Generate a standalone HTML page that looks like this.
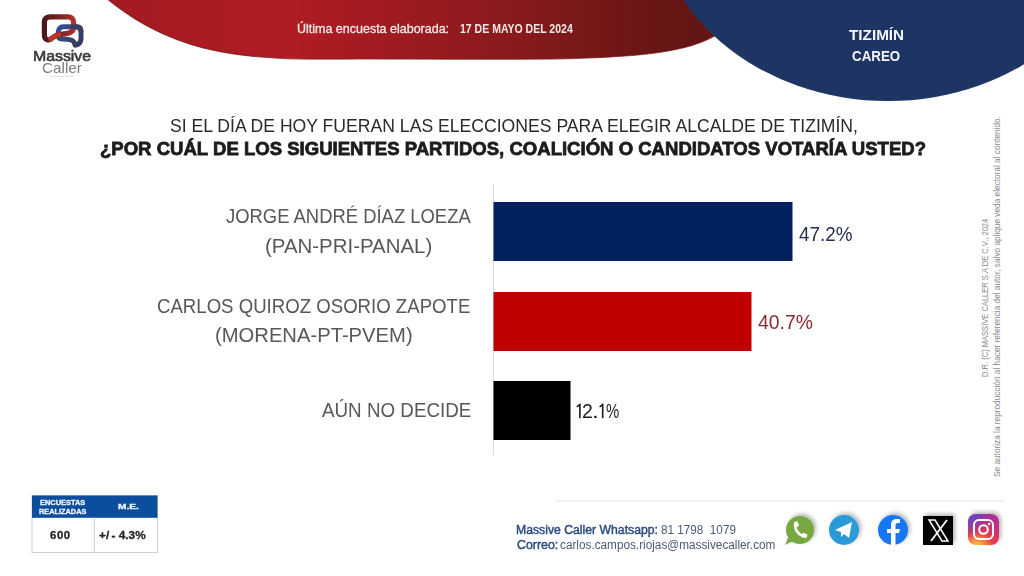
<!DOCTYPE html>
<html><head><meta charset="utf-8">
<style>
html,body{margin:0;padding:0;}
body{width:1024px;height:576px;position:relative;overflow:hidden;background:#fff;font-family:"Liberation Sans",sans-serif;}
#bg{position:absolute;left:0;top:0;}
.t{position:absolute;white-space:nowrap;line-height:1;transform-origin:0 0;}
</style></head>
<body>
<svg id="bg" width="1024" height="576" viewBox="0 0 1024 576">
  <defs>
    <linearGradient id="rg" x1="100" y1="0" x2="760" y2="0" gradientUnits="userSpaceOnUse">
      <stop offset="0" stop-color="#a31b21"/>
      <stop offset="0.29" stop-color="#b01c23"/>
      <stop offset="0.636" stop-color="#881a1c"/>
      <stop offset="0.818" stop-color="#6a1716"/>
      <stop offset="1" stop-color="#5c1414"/>
    </linearGradient>
    <linearGradient id="lr" x1="43" y1="0" x2="76" y2="0" gradientUnits="userSpaceOnUse">
      <stop offset="0" stop-color="#461818"/>
      <stop offset="0.5" stop-color="#7a2222"/>
      <stop offset="1" stop-color="#b83030"/>
    </linearGradient>
    <linearGradient id="lb" x1="56" y1="26" x2="82" y2="44" gradientUnits="userSpaceOnUse">
      <stop offset="0" stop-color="#34509a"/>
      <stop offset="1" stop-color="#383a58"/>
    </linearGradient>
    <filter id="sh" x="-50%" y="-50%" width="200%" height="200%"><feGaussianBlur in="SourceAlpha" stdDeviation="2"/><feOffset dx="2" dy="-2"/><feComponentTransfer><feFuncA type="linear" slope="0.3"/></feComponentTransfer><feMerge><feMergeNode/><feMergeNode in="SourceGraphic"/></feMerge></filter>
    <radialGradient id="ig" cx="0.3" cy="1.08" r="1.1">
      <stop offset="0" stop-color="#fdd35a"/>
      <stop offset="0.18" stop-color="#fb9a3e"/>
      <stop offset="0.48" stop-color="#e83a4e"/>
      <stop offset="0.8" stop-color="#c8307e"/>
      <stop offset="1" stop-color="#b02e96"/>
    </radialGradient>
    <radialGradient id="ig2" cx="0.05" cy="0" r="0.8">
      <stop offset="0" stop-color="#5a4bd0" stop-opacity="1"/>
      <stop offset="0.5" stop-color="#6a45c8" stop-opacity="0.6"/>
      <stop offset="1" stop-color="#a03090" stop-opacity="0"/>
    </radialGradient>
  </defs>
  <path d="M108.5,0 C186.6,63.6 268.2,59 360,59 C629.6,59 720.8,66.3 745,0 L745,-6 L104,-6 Z" fill="url(#rg)" stroke="#7e181c" stroke-width="1.2" stroke-opacity="0.7"/>
  <ellipse cx="888" cy="-100" rx="236" ry="201" fill="#1e3463"/>
  <!-- logo -->
  <path d="M62,39 C66,39 70,39.5 72.5,40.5 C74,41.5 74.5,43 75.2,45.2 C78.5,44.5 81,42.5 81,38.5 L81,31.5 C81,28.5 79.5,26.7 76,26.7 L63.5,26.7 C60,26.7 58.2,29 58.2,32.5 L58.2,35 C58.2,37.8 59.5,39 62,39 Z" fill="none" stroke="url(#lb)" stroke-width="5" stroke-linejoin="round"/>
  <path d="M44.4,34 L44.4,22 C44.4,18.8 46.5,16.8 50,16.8 L68,16.8 C71.5,16.8 73.6,19 73.6,22.5 L73.6,27 C73.6,31 71,33.2 66,33.6 L59,34.6 C54.5,35.4 52.5,37.5 50.5,39.3 C48.5,40.5 46,39.8 45,38 C44.6,37 44.4,35.6 44.4,34 Z" fill="none" stroke="url(#lr)" stroke-width="5.2" stroke-linejoin="round"/>
  <path d="M59,34.6 C54.5,35.4 52.5,37.5 50.5,39.3" fill="none" stroke="#c8382c" stroke-width="4.6" stroke-linecap="round" opacity="0.85"/>
  <path d="M71,26.7 L76,26.7 C79.5,26.7 81,28.5 81,31.5" fill="none" stroke="#3a3c60" stroke-width="5"/>
  <rect x="50" y="75.8" width="24" height="1" fill="#dcdcdc"/>
  <!-- axis & bars -->
  <rect x="493" y="184" width="1" height="271" fill="#dadada"/>
  <rect x="493.5" y="202" width="299" height="59" fill="#002060"/>
  <rect x="493.5" y="292" width="258" height="59" fill="#c00000"/>
  <rect x="493.5" y="381" width="77" height="59" fill="#000"/>
  <path d="M576.8,407 L579.9,404.3 L579.9,418.2" fill="none" stroke="#1a1a1a" stroke-width="1.6" stroke-linejoin="round"/>
  <path d="M599.6,407 L602.7,404.3 L602.7,418.2" fill="none" stroke="#1a1a1a" stroke-width="1.6" stroke-linejoin="round"/>
  <!-- table -->
  <rect x="32" y="495.5" width="125.5" height="57" fill="#fff" stroke="#d0d0d0" stroke-width="1"/>
  <rect x="32" y="495.5" width="125.5" height="22.3" fill="#0b4e9e"/>
  <rect x="94" y="517.8" width="1" height="34.7" fill="#d0d0d0"/>
  <!-- contact line -->
  <rect x="556" y="500.5" width="448" height="1" fill="#e4e4e4"/>
  <!-- icons -->
  <g filter="url(#sh)">
    <circle cx="800" cy="530" r="14" fill="#78a843"/>
    <path d="M788,538 L785,545 L793,541 Z" fill="#78a843"/>
  </g>
  <path d="M795.2,524.5 C794.6,529 797.5,534 803.5,536.6" fill="none" stroke="#fff" stroke-width="2.6" stroke-linecap="round"/>
  <path d="M794.3,522.6 L797.2,521.8 L798.6,525.6 L796.2,527 Z" fill="#fff" stroke="#fff" stroke-width="1" stroke-linejoin="round"/>
  <path d="M801.6,535.6 L803.2,533.2 L807,534.8 L806.2,537.8 Z" fill="#fff" stroke="#fff" stroke-width="1" stroke-linejoin="round"/>
  <g filter="url(#sh)"><circle cx="844" cy="530" r="15" fill="#2a9ad8"/></g>
  <path d="M835,530 L852,522 L849,538 L844,534 L841,537 L841,532 Z" fill="#fff"/>
  <g filter="url(#sh)"><circle cx="893" cy="530" r="15" fill="#1877f2"/></g>
  <path d="M891,546 L891,533 L887,533 L887,529 L891,529 L891,525 C891,521 893,519 897,519 L900,519 L900,523 L898,523 C896,523 895.5,524 895.5,525.5 L895.5,529 L900,529 L899,533 L895.5,533 L895.5,546 Z" fill="#fff"/>
  <g filter="url(#sh)"><rect x="923" y="516" width="30" height="29" fill="#000"/></g>
  <path d="M929,520 L935,520 L948,541 L942,541 Z" fill="none" stroke="#fff" stroke-width="1.5"/>
  <path d="M947,520 L931,541" stroke="#fff" stroke-width="1.8"/>
  <g filter="url(#sh)"><rect x="968" y="514" width="31" height="31" rx="8" fill="url(#ig)"/></g>
  <rect x="968" y="514" width="31" height="31" rx="8" fill="url(#ig2)"/>
  <rect x="974" y="520" width="19" height="19" rx="5" fill="none" stroke="#fff" stroke-width="2"/>
  <circle cx="983.5" cy="529.5" r="4.3" fill="none" stroke="#fff" stroke-width="2"/>
  <circle cx="989" cy="524" r="1.2" fill="#fff"/>
</svg>
<div class="t" id="ult" style="left:296.55px;top:22.27px;font-size:13.1px;font-weight:normal;color:#f6e8e8;transform:scaleX(0.9541);-webkit-text-stroke:0.3px #f6e8e8;">Última encuesta elaborada:</div>
<div class="t" id="may" style="left:459.62px;top:22.70px;font-size:12.0px;font-weight:bold;color:#f6e8e8;transform:scaleX(0.8758);">17 DE MAYO DEL 2024</div>
<div class="t" id="tiz" style="left:848.60px;top:27.33px;font-size:15.5px;font-weight:bold;color:#f4f6fb;transform:scaleX(0.9855);">TIZIMÍN</div>
<div class="t" id="car" style="left:851.81px;top:48.25px;font-size:15.0px;font-weight:bold;color:#f4f6fb;transform:scaleX(0.8887);">CAREO</div>
<div class="t" id="q1" style="left:170.27px;top:115.85px;font-size:19.0px;font-weight:normal;color:#2a2a2a;transform:scaleX(0.9264);">SI EL DÍA DE HOY FUERAN LAS ELECCIONES PARA ELEGIR ALCALDE DE TIZIMÍN,</div>
<div class="t" id="q2" style="left:100.32px;top:139.25px;font-size:19.0px;font-weight:bold;color:#1c1c1c;transform:scaleX(0.9761);-webkit-text-stroke:0.8px #1c1c1c;">¿POR CUÁL DE LOS SIGUIENTES PARTIDOS, COALICIÓN O CANDIDATOS VOTARÍA USTED?</div>
<div class="t" id="l1" style="left:226.40px;top:206.53px;font-size:19.5px;font-weight:normal;color:#585858;transform:scaleX(0.9448);">JORGE ANDRÉ DÍAZ LOEZA</div>
<div class="t" id="l1b" style="left:264.95px;top:236.53px;font-size:19.5px;font-weight:normal;color:#585858;transform:scaleX(1.0475);">(PAN-PRI-PANAL)</div>
<div class="t" id="l2" style="left:157.35px;top:296.62px;font-size:19.5px;font-weight:normal;color:#585858;transform:scaleX(0.9544);">CARLOS QUIROZ OSORIO ZAPOTE</div>
<div class="t" id="l2b" style="left:215.36px;top:325.93px;font-size:19.5px;font-weight:normal;color:#585858;transform:scaleX(1.0365);">(MORENA-PT-PVEM)</div>
<div class="t" id="l3" style="left:322.30px;top:400.62px;font-size:19.5px;font-weight:normal;color:#585858;transform:scaleX(0.9643);">AÚN NO DECIDE</div>
<div class="t" id="p1" style="left:799.20px;top:222.75px;font-size:21.0px;font-weight:normal;color:#262d4e;transform:scaleX(0.8983);">47.2%</div>
<div class="t" id="p2" style="left:757.50px;top:310.75px;font-size:21.0px;font-weight:normal;color:#8a2a33;transform:scaleX(0.9220);">40.7%</div>
<div class="t" id="p3a" style="left:582.37px;top:400.35px;font-size:21.0px;font-weight:normal;color:#1a1a1a;transform:scaleX(0.9300);">2</div>
<div class="t" id="p3b" style="left:592.30px;top:400.35px;font-size:21.0px;font-weight:normal;color:#1a1a1a;transform:scaleX(1.1500);">.</div>
<div class="t" id="p3c" style="left:606.19px;top:400.35px;font-size:21.0px;font-weight:normal;color:#1a1a1a;transform:scaleX(0.7059);">%</div>
<div class="t" id="mas" style="left:33.12px;top:49.40px;font-size:14.0px;font-weight:normal;color:#3a3a3a;transform:scaleX(1.1310);-webkit-text-stroke:0.6px #3a3a3a;">Massive</div>
<div class="t" id="cal" style="left:42.15px;top:61.49px;font-size:14.6px;font-weight:normal;color:#7c7c7c;transform:scaleX(1.0486);">Caller</div>
<div class="t" id="wa1" style="left:516.01px;top:524.34px;font-size:12.3px;font-weight:normal;color:#2b4c80;transform:scaleX(0.9936);-webkit-text-stroke:0.45px #2b4c80;">Massive Caller Whatsapp:</div>
<div class="t" id="wa2" style="left:661.40px;top:524.34px;font-size:12.3px;font-weight:normal;color:#4a5a78;transform:scaleX(0.9526);">81 1798&nbsp; 1079</div>
<div class="t" id="co1" style="left:516.60px;top:539.14px;font-size:12.3px;font-weight:normal;color:#2b4c80;transform:scaleX(1.0050);-webkit-text-stroke:0.45px #2b4c80;">Correo:</div>
<div class="t" id="co2" style="left:560.30px;top:539.14px;font-size:12.3px;font-weight:normal;color:#4a5a78;transform:scaleX(0.9571);">carlos.campos.riojas@massivecaller.com</div>
<div class="t" id="th1" style="left:40.22px;top:498.64px;font-size:7.6px;font-weight:bold;color:#eef2fa;transform:scaleX(0.9778);-webkit-text-stroke:0.35px #eef2fa;">ENCUESTAS</div>
<div class="t" id="th2" style="left:39.43px;top:507.54px;font-size:7.6px;font-weight:bold;color:#eef2fa;transform:scaleX(0.9681);-webkit-text-stroke:0.35px #eef2fa;">REALIZADAS</div>
<div class="t" id="th3" style="left:117.57px;top:502.64px;font-size:7.6px;font-weight:bold;color:#eef2fa;transform:scaleX(1.3273);-webkit-text-stroke:0.35px #eef2fa;">M.E.</div>
<div class="t" id="n600" style="left:50.30px;top:530.09px;font-size:10.6px;font-weight:bold;color:#262626;transform:scaleX(1.0684);letter-spacing:0.6px;-webkit-text-stroke:0.3px #262626;">600</div>
<div class="t" id="me" style="left:98.60px;top:529.75px;font-size:11.0px;font-weight:bold;color:#262626;transform:scaleX(1.0727);-webkit-text-stroke:0.3px #262626;">+/&thinsp;- 4.3%</div>
<div class="t" id="v1" style="left:980.34px;top:376.59px;font-size:9.6px;color:#8a8a8a;transform:rotate(-90deg) scaleX(0.7865);">D.R. (C) MASSIVE CALLER S.A DE C.V., 2024</div>
<div class="t" id="v2" style="left:992.99px;top:477.21px;font-size:8.6px;color:#8a8a8a;transform:rotate(-90deg) scaleX(0.9611);">Se autoriza la reproducción al hacer referencia del autor, salvo aplique veda electoral al contenido.</div>
</body></html>
